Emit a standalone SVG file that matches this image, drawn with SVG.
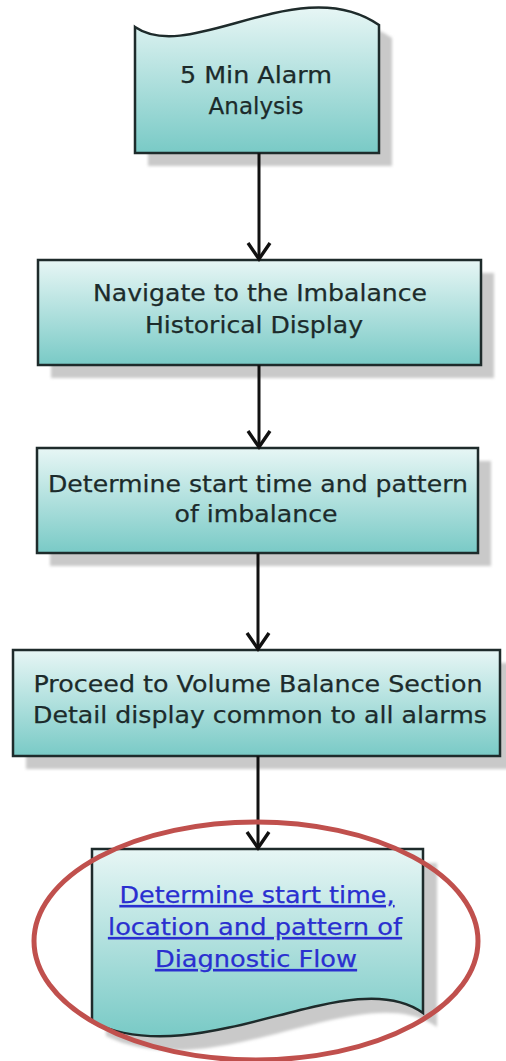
<svg xmlns="http://www.w3.org/2000/svg" width="506" height="1061" viewBox="0 0 506 1061">
<style>
.node{fill:url(#g);stroke:#1e2b2b;stroke-width:2.5}
.shadow{fill:#c9c9c9;filter:url(#blur)}
.t{font-family:"DejaVu Sans","Liberation Sans",sans-serif;font-size:23px;fill:#1c2b2b;text-anchor:middle;stroke:#1c2b2b;stroke-width:0.25}
.link{fill:#2a2fd0;stroke:#2a2fd0;text-decoration:underline}
.conn{stroke:#111;stroke-width:3;fill:none;marker-end:url(#arr)}
</style>
<defs>
<linearGradient id="g" x1="0" y1="0" x2="0" y2="1">
<stop offset="0" stop-color="#e7f6f5"/>
<stop offset="1" stop-color="#79cac6"/>
</linearGradient>
<filter id="blur" x="-10%" y="-10%" width="120%" height="120%"><feGaussianBlur stdDeviation="1.5"/></filter>
<marker id="arr" markerUnits="userSpaceOnUse" viewBox="-20 -15 24 30" refX="0" refY="0" markerWidth="24" markerHeight="30" orient="auto" overflow="visible">
<path d="M-16,-11 L0,0 L-16,11" fill="none" stroke="#111" stroke-width="3.4" stroke-linejoin="miter"/>
</marker>
</defs>
<rect width="506" height="1061" fill="#fff"/>

<g id="n1">
<path class="shadow" d="M148,40 C203,78 313,-17 392,38 L392,166 L148,166 Z"/>
<path class="node" d="M135,27 C190,65 300,-30 379,25 L379,153 L135,153 Z"/>
<text class="t" x="256" y="83" textLength="152" lengthAdjust="spacingAndGlyphs">5 Min Alarm</text>
<text class="t" x="256" y="114">Analysis</text>
</g>

<g id="n2">
<rect class="shadow" x="51" y="273" width="443" height="105"/>
<rect class="node" x="38" y="260" width="443" height="105"/>
<text class="t" x="260" y="301" textLength="334" lengthAdjust="spacingAndGlyphs">Navigate to the Imbalance</text>
<text class="t" x="254" y="333" textLength="218" lengthAdjust="spacingAndGlyphs">Historical Display</text>
</g>

<g id="n3">
<rect class="shadow" x="50" y="461" width="441" height="105"/>
<rect class="node" x="37" y="448" width="441" height="105"/>
<text class="t" x="258" y="492" textLength="420" lengthAdjust="spacingAndGlyphs">Determine start time and pattern</text>
<text class="t" x="256" y="522" textLength="163" lengthAdjust="spacingAndGlyphs">of imbalance</text>
</g>

<g id="n4">
<rect class="shadow" x="26" y="663" width="487" height="106"/>
<rect class="node" x="13" y="650" width="487" height="106"/>
<text class="t" x="258" y="692" textLength="449" lengthAdjust="spacingAndGlyphs">Proceed to Volume Balance Section</text>
<text class="t" x="260" y="723" textLength="454" lengthAdjust="spacingAndGlyphs">Detail display common to all alarms</text>
</g>

<g id="n5">
<path class="shadow" d="M106,863 L437,863 L437,1027 C364,974 214,1089 106,1036 Z"/>
<path class="node" d="M92,849 L423,849 L423,1013 C350,960 200,1075 92,1022 Z"/>
<text class="t link" x="257" y="903" textLength="275" lengthAdjust="spacingAndGlyphs">Determine start time,</text>
<text class="t link" x="255" y="935" textLength="294" lengthAdjust="spacingAndGlyphs">location and pattern of</text>
<text class="t link" x="256" y="967" textLength="202" lengthAdjust="spacingAndGlyphs">Diagnostic Flow</text>
</g>

<g id="connectors">
<line class="conn" x1="259" y1="153" x2="259" y2="259"/>
<line class="conn" x1="259" y1="365" x2="259" y2="447"/>
<line class="conn" x1="258" y1="553" x2="258" y2="649"/>
<line class="conn" x1="258" y1="756" x2="258" y2="848"/>
</g>

<g id="highlight">
<ellipse cx="256" cy="941" rx="222" ry="119" fill="none" stroke="#c0504d" stroke-width="5"/>
</g>
</svg>
